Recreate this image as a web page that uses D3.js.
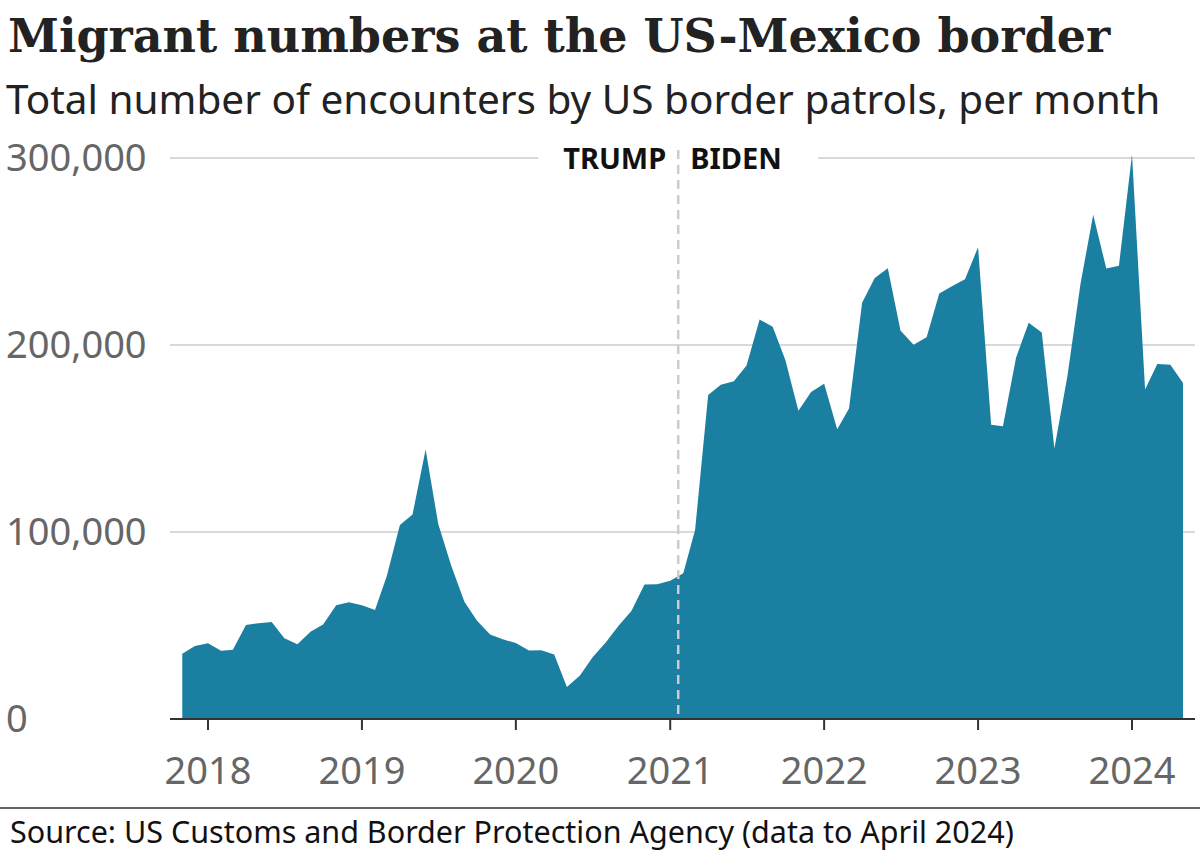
<!DOCTYPE html>
<html><head><meta charset="utf-8">
<script src="https://cdn.jsdelivr.net/npm/d3@7"></script>
<style>body{margin:0;background:#fff}svg{display:block}</style>
</head><body>
<script>
const startMonth = "2017-10";
const encounters = [34.9,39.0,40.5,36.5,37.0,50.3,51.2,51.9,43.2,40.0,46.7,50.6,
60.8,62.5,60.8,58.3,76.5,103.7,109.4,144.1,104.3,81.8,62.7,52.5,
45.2,42.6,40.6,36.6,36.7,34.5,17.1,23.2,33.0,40.9,50.0,57.7,
71.9,72.1,73.9,78.0,101.1,173.3,178.8,180.6,189.0,213.6,209.8,192.0,
164.8,174.8,179.3,154.9,166.0,222.6,235.8,241.1,207.8,200.2,204.1,227.5,
231.5,235.2,252.3,157.4,156.6,193.2,211.9,206.7,144.6,183.5,232.9,269.7,
240.9,242.4,301.9,176.2,189.9,189.4,179.7];
const yTicks = [0,100000,200000,300000];
const xTickYears = [2018,2019,2020,2021,2022,2023,2024];
const labels = ["TRUMP","BIDEN"];
const inauguration = new Date(2021,0,20);

const W=1200,H=855;
const svg=d3.select("body").append("svg").attr("width",W).attr("height",H);
const [sy,sm]=startMonth.split("-").map(Number);
const data=encounters.map((v,i)=>({d:new Date(sy,sm+i,1),v:v*1000}));
const x=d3.scaleTime().domain([new Date(2018,0,1),new Date(2024,0,1)]).range([208,1132]);
const y=d3.scaleLinear().domain([0,300000]).range([719,158]);

svg.append("text").attr("x",8).attr("y",52).attr("font-family","DejaVu Serif").attr("font-weight","bold")
 .attr("font-size",46).attr("fill","#222").text("Migrant numbers at the US-Mexico border");
svg.append("text").attr("x",6).attr("y",114).attr("font-family","Noto Sans").attr("font-size",40.5)
 .attr("fill","#222").text("Total number of encounters by US border patrols, per month");

svg.selectAll(".g").data(yTicks.filter(d=>d>0)).join("line").attr("x1",170).attr("x2",1195)
 .attr("y1",d=>y(d)).attr("y2",d=>y(d)).attr("stroke","#ccc").attr("stroke-width",1.5);
svg.selectAll(".yl").data(yTicks).join("text").attr("x",6).attr("y",d=>y(d)+13)
 .attr("font-family","Noto Sans").attr("font-size",38).attr("fill","#666")
 .text(d=>d3.format(",")(d));

svg.append("path").datum(data).attr("fill","#1a7fa0")
 .attr("d",d3.area().x(d=>x(d.d)).y0(y(0)).y1(d=>y(d.v)));

const xi=x(inauguration);
svg.append("rect").attr("x",xi-140).attr("y",y(300000)-5).attr("width",280).attr("height",10).attr("fill","#fff");
svg.append("line").attr("x1",xi).attr("x2",xi).attr("y1",150).attr("y2",719)
 .attr("stroke","#ccc").attr("stroke-width",2.5).attr("stroke-dasharray","9,6");
svg.append("text").attr("x",xi-12).attr("y",169).attr("text-anchor","end")
 .attr("font-family","Noto Sans").attr("font-weight","bold").attr("font-size",29).attr("fill","#111").text(labels[0]);
svg.append("text").attr("x",xi+12).attr("y",169)
 .attr("font-family","Noto Sans").attr("font-weight","bold").attr("font-size",29).attr("fill","#111").text(labels[1]);

svg.append("line").attr("x1",170).attr("x2",1195).attr("y1",719).attr("y2",719).attr("stroke","#333").attr("stroke-width",2);
const xt=xTickYears.map(yv=>new Date(yv,0,1));
svg.selectAll(".xt").data(xt).join("line").attr("x1",d=>x(d)).attr("x2",d=>x(d)).attr("y1",719).attr("y2",730)
 .attr("stroke","#333").attr("stroke-width",2);
svg.selectAll(".xl").data(xt).join("text").attr("x",d=>x(d)).attr("y",784).attr("text-anchor","middle")
 .attr("font-family","Noto Sans").attr("font-size",38).attr("fill","#666").text(d=>d.getFullYear());

svg.append("line").attr("x1",0).attr("x2",W).attr("y1",808).attr("y2",808).attr("stroke","#333").attr("stroke-width",1.5);
svg.append("text").attr("x",10).attr("y",843).attr("font-family","Noto Sans").attr("font-size",30.5)
 .attr("fill","#111").text("Source: US Customs and Border Protection Agency (data to April 2024)");
</script>
</body></html>
